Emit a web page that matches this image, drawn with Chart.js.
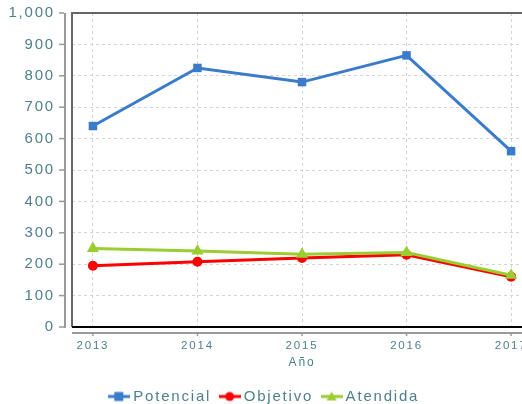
<!DOCTYPE html>
<html>
<head>
<meta charset="utf-8">
<script src="https://cdn.jsdelivr.net/npm/chart.js@4/dist/chart.umd.min.js"></script>
<style>
  html, body { margin: 0; padding: 0; background: #fff; overflow: hidden; }
  #contenedor { width: 569px; height: 404px; }
</style>
</head>
<body>
<div id="contenedor"><canvas id="grafico"></canvas></div>
<script>
// Datos
const anios = [2013, 2014, 2015, 2016, 2017];
const potencial = [640, 825, 780, 865, 560];
const objetivo = [195, 208, 220, 230, 160];
const atendida = [250, 242, 232, 237, 165];
const ticksY = [0, 100, 200, 300, 400, 500, 600, 700, 800, 900, 1000];

const colorTexto = "#4f7f8c";
const series = [
  { nombre: "Potencial", datos: potencial, color: "#3a7bcc", punto: "rect", radio: 6 },
  { nombre: "Objetivo", datos: objetivo, color: "#ff0000", punto: "circle", radio: 5 },
  { nombre: "Atendida", datos: atendida, color: "#9acd32", punto: "triangle", radio: 7 }
];

// Icono de leyenda: línea con marcador
function iconoLeyenda(s) {
  const c = document.createElement("canvas");
  c.width = 22; c.height = 12;
  const g = c.getContext("2d");
  g.strokeStyle = s.color; g.fillStyle = s.color; g.lineWidth = 3;
  g.beginPath(); g.moveTo(0, 6); g.lineTo(22, 6); g.stroke();
  g.beginPath();
  if (s.punto === "rect") g.rect(6, 1.5, 9, 9);
  else if (s.punto === "circle") g.arc(11, 6, 4.5, 0, Math.PI * 2);
  else { g.moveTo(11, 1); g.lineTo(16, 10); g.lineTo(6, 10); g.closePath(); }
  g.fill();
  return c;
}

function espaciado(chart) { chart.ctx.letterSpacing = "1.8px"; }

// Marco del área y ejes desplazados
const marco = {
  id: "marco",
  beforeLayout: espaciado,
  beforeDraw: espaciado,
  beforeDatasetsDraw(chart) {
    const { ctx, chartArea: a, scales } = chart;
    ctx.save();
    ctx.lineWidth = 2;
    // eje Y gris
    ctx.strokeStyle = "#9a9a9a";
    ctx.beginPath(); ctx.moveTo(a.left - 7, a.top); ctx.lineTo(a.left - 7, a.bottom + 1); ctx.stroke();
    ctx.lineWidth = 1.5;
    ticksY.forEach(v => {
      const y = scales.y.getPixelForValue(v);
      ctx.beginPath(); ctx.moveTo(a.left - 13, y); ctx.lineTo(a.left - 8, y); ctx.stroke();
    });
    // eje X gris
    ctx.lineWidth = 2;
    ctx.beginPath(); ctx.moveTo(a.left, a.bottom + 6); ctx.lineTo(a.right, a.bottom + 6); ctx.stroke();
    ctx.lineWidth = 1.5;
    anios.forEach(v => {
      const x = scales.x.getPixelForValue(v);
      ctx.beginPath(); ctx.moveTo(x, a.bottom + 5); ctx.lineTo(x, a.bottom + 9); ctx.stroke();
    });
    // marco
    ctx.lineWidth = 2;
    ctx.strokeStyle = "#666";
    ctx.beginPath(); ctx.moveTo(a.left, a.bottom); ctx.lineTo(a.left, a.top); ctx.lineTo(a.right, a.top); ctx.stroke();
    ctx.strokeStyle = "#000";
    ctx.beginPath(); ctx.moveTo(a.left, a.bottom); ctx.lineTo(a.right, a.bottom); ctx.stroke();
    ctx.restore();
  }
};

const ordenDibujo = [2, 1, 0];

new Chart(document.getElementById("grafico"), {
  type: "line",
  data: {
    datasets: series.map((s, i) => ({
      label: s.nombre,
      data: anios.map((a, j) => ({ x: a, y: s.datos[j] })),
      borderColor: s.color,
      backgroundColor: s.color,
      borderWidth: 3,
      pointStyle: s.punto,
      pointRadius: s.radio,
      pointHoverRadius: s.radio,
      pointBorderWidth: 0,
      tension: 0,
      order: ordenDibujo[i]
    }))
  },
  options: {
    responsive: true,
    maintainAspectRatio: false,
    animation: false,
    locale: "en-US",
    layout: { padding: { top: 13, right: 37, bottom: -10, left: 0 } },
    scales: {
      x: {
        type: "linear",
        min: 2012.8,
        max: 2017.2,
        afterFit: s => { s.height = 50; },
        afterBuildTicks: s => { s.ticks = anios.map(v => ({ value: v })); },
        grid: { color: "#d4d4d4", lineWidth: 1, drawTicks: false },
        border: { display: false, dash: [3, 3] },
        ticks: { color: colorTexto, font: { family: "Liberation Sans", size: 11.5 }, padding: 12, callback: v => String(v) },
        title: { display: true, text: "Año", color: colorTexto, font: { family: "Liberation Sans", size: 12 }, padding: { top: 0, bottom: 7 } }
      },
      y: {
        min: 0,
        max: 1000,
        afterFit: s => { s.width = 72; s.paddingTop = 0; s.paddingBottom = 0; },
        afterBuildTicks: s => { s.ticks = ticksY.map(v => ({ value: v })); },
        grid: { color: "#d4d4d4", lineWidth: 1, drawTicks: false },
        border: { display: false, dash: [3, 3] },
        ticks: { color: colorTexto, font: { family: "Liberation Sans", size: 15 }, padding: 17 }
      }
    },
    plugins: {
      tooltip: { enabled: false },
      legend: {
        position: "bottom",
        labels: {
          usePointStyle: true,
          pointStyleWidth: 13,
          boxHeight: 12,
          padding: 12,
          color: colorTexto,
          font: { family: "Liberation Sans", size: 15 },
          generateLabels: () => series.map((s, i) => ({
            text: s.nombre,
            pointStyle: iconoLeyenda(s),
            fillStyle: s.color,
            strokeStyle: s.color,
            lineWidth: 0,
            fontColor: colorTexto,
            datasetIndex: i,
            hidden: false
          }))
        }
      }
    }
  },
  plugins: [marco]
});
</script>
</body>
</html>
